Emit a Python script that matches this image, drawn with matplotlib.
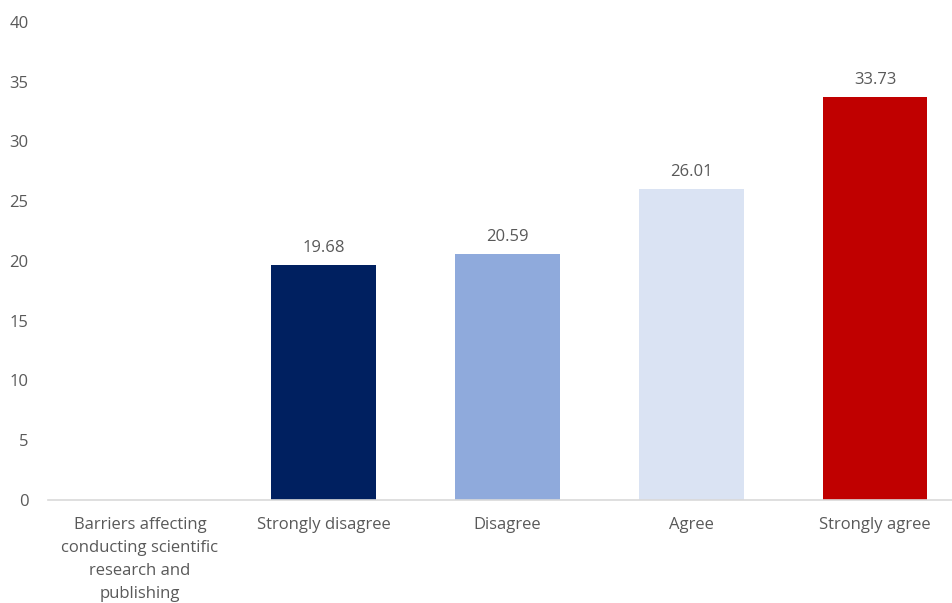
import numpy as np
import matplotlib.pyplot as plt

categories = ['Barriers affecting\nconducting scientific\nresearch and\npublishing',
              'Strongly disagree', 'Disagree', 'Agree', 'Strongly agree']
values = [0, 19.68, 20.59, 26.01, 33.73]
colors = ['#FFFFFF', '#002060', '#8FAADC', '#DAE3F3', '#C00000']
labels = ['', '19.68', '20.59', '26.01', '33.73']

plt.rcParams['font.family'] = ['Open Sans', 'DejaVu Sans']
grey = '#595959'

fig = plt.figure(figsize=(9.53, 6.03), dpi=100)
# axes run a little past the right edge, as in the cropped original
ax = fig.add_axes([48 / 953, 103 / 603, 919 / 953, 478 / 603])

x = np.arange(len(categories))
bars = ax.bar(x, values, 0.57, color=colors)

for rect, lab in zip(bars, labels):
    if lab:
        ax.text(rect.get_x() + rect.get_width() / 2, rect.get_height() + 0.75, lab,
                ha='center', va='bottom', fontsize=12, color=grey)

ax.set_xlim(-0.5, 4.5)
ax.set_ylim(0, 40)
ax.set_yticks(np.arange(0, 41, 5))
ax.set_xticks(x)
ax.set_xticklabels(categories, fontsize=12, color=grey, linespacing=1.6)
ax.tick_params(axis='y', labelsize=12, labelcolor=grey, length=0, pad=14)
ax.tick_params(axis='x', length=0, pad=12)

for s in ['top', 'right', 'left']:
    ax.spines[s].set_visible(False)
ax.spines['bottom'].set_color('#D9D9D9')
ax.spines['bottom'].set_linewidth(1.2)

fig.savefig('out.png', dpi=100)
